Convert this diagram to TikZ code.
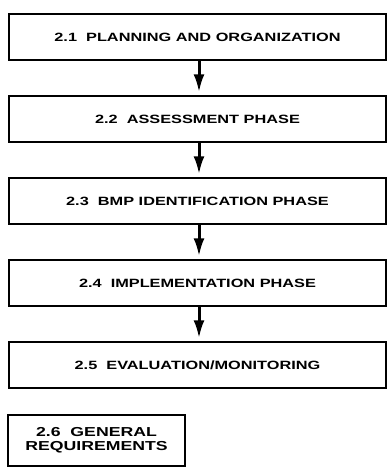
\documentclass[tikz,border=0pt]{standalone}
\usepackage{fontspec}
\setmainfont{Liberation Sans}[FakeStretch=1.36]
\usetikzlibrary{arrows.meta}
\tikzset{
  phasebox/.style={draw=black, line width=1.4pt, fill=white, minimum width=377pt,
    minimum height=46pt, inner sep=0pt, font=\fontsize{12}{14}\selectfont\bfseries},
  sidebox/.style={draw=black, line width=1.4pt, fill=white, minimum width=177pt,
    minimum height=51pt, inner sep=0pt, align=center,
    font=\fontsize{13}{14}\selectfont\bfseries},
  flow/.style={line width=3pt, -{Latex[length=18pt,width=11pt]}, shorten >=3pt}
}
\begin{document}
\begin{tikzpicture}[x=1pt,y=1pt]
  \useasboundingbox[fill=white] (0,0) rectangle (388,-468);
  % main sequence of phases
  \node[phasebox] (p1) at (197.5,-37)  {2.1\ \ PLANNING AND ORGANIZATION};
  \node[phasebox] (p2) at (197.5,-119) {2.2\ \ ASSESSMENT PHASE};
  \node[phasebox] (p3) at (197.5,-201) {2.3\ \ BMP IDENTIFICATION PHASE};
  \node[phasebox] (p4) at (197.5,-283) {2.4\ \ IMPLEMENTATION PHASE};
  \node[phasebox] (p5) at (197.5,-365) {2.5\ \ EVALUATION/MONITORING};
  % stand-alone section
  \node[sidebox] (p6) at (96.5,-440.5) {2.6\ \ GENERAL\\REQUIREMENTS};
  % connectors, set a little right of the box centres
  \draw[flow] ([xshift=1.5pt]p1.south) -- ([xshift=1.5pt]p2.north);
  \draw[flow] ([xshift=1.5pt]p2.south) -- ([xshift=1.5pt]p3.north);
  \draw[flow] ([xshift=1.5pt]p3.south) -- ([xshift=1.5pt]p4.north);
  \draw[flow] ([xshift=1.5pt]p4.south) -- ([xshift=1.5pt]p5.north);
\end{tikzpicture}
\end{document}
